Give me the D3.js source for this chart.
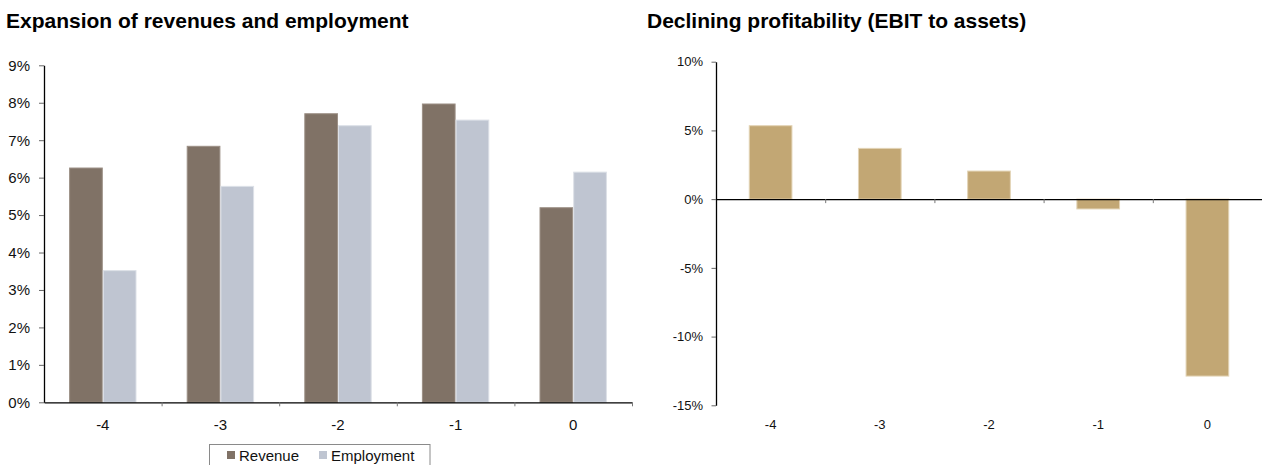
<!DOCTYPE html>
<html>
<head>
<meta charset="utf-8">
<script src="https://cdn.jsdelivr.net/npm/d3@7"></script>
<style>
  html, body { margin: 0; padding: 0; background: #fff; }
  svg { display: block; font-family: Arial, "Liberation Sans", sans-serif; }
  .domain { stroke: #000; }
</style>
</head>
<body>
<svg id="chart" width="1262" height="465"></svg>
<script>
// Left panel: growth of revenues and employment by year relative to event (0)
const years = ["-4", "-3", "-2", "-1", "0"];
const seriesNames = ["Revenue", "Employment"];
const revenue = [0.0627, 0.0685, 0.0772, 0.0798, 0.0521];
const employment = [0.0353, 0.0578, 0.0740, 0.0755, 0.0616];
const growthTicks = [0, 0.01, 0.02, 0.03, 0.04, 0.05, 0.06, 0.07, 0.08, 0.09];

// Right panel: EBIT to assets
const ebitToAssets = [0.0538, 0.0373, 0.0208, -0.0075, -0.1291];
const profitTicks = [-0.15, -0.10, -0.05, 0, 0.05, 0.10];

const colors = { Revenue: "#807266", Employment: "#bfc5d1" };
const edges = { Revenue: "#9c9086", Employment: "#dce0e7" };
const tan = "#c2a774", tanEdge = "#e3d4b6";

const svg = d3.select("#chart");
// percent labels with a plain hyphen for negatives
const pct = d3.formatLocale({ decimal: ".", thousands: ",", grouping: [3], currency: ["$", ""], minus: "-" }).format(".0%");

// ---------- Left panel ----------
const L = { left: 44, right: 632, top: 65.3, bottom: 402.3 };
const yL = d3.scaleLinear().domain([0, 0.09]).range([L.bottom, L.top]);
const xL = d3.scaleBand().domain(years).range([L.left, L.right]).padding(0);
const xLsub = d3.scaleBand().domain(seriesNames).range([0, xL.bandwidth()])
  .paddingInner(0).paddingOuter(0.745);
const xLedges = d3.scaleLinear().domain([0, years.length]).range([L.left, L.right]);

svg.append("text").attr("x", 6).attr("y", 28)
  .attr("font-size", 21).attr("font-weight", "bold").attr("fill", "#000")
  .text("Expansion of revenues and employment");

const left = svg.append("g");
const rows = years.map((y, i) => ({ year: y, Revenue: revenue[i], Employment: employment[i] }));

left.selectAll("g.grp").data(rows).join("g").attr("class", "grp")
  .attr("transform", d => `translate(${xL(d.year)},0)`)
  .selectAll("rect").data(d => seriesNames.map(k => ({ key: k, value: d[k] })))
  .join("rect")
  .attr("x", d => xLsub(d.key) + 0.5)
  .attr("width", xLsub.bandwidth() - 1)
  .attr("y", d => yL(d.value) + 0.5)
  .attr("height", d => yL(0) - yL(d.value) - 0.5)
  .attr("fill", d => colors[d.key])
  .attr("stroke", d => edges[d.key])
  .attr("stroke-width", 1);

// y axis
const yAxL = left.append("g").attr("transform", `translate(${L.left},0)`)
  .call(d3.axisLeft(yL).tickValues(growthTicks).tickFormat(pct).tickSize(5).tickPadding(9).tickSizeOuter(0));
yAxL.selectAll("text").attr("font-size", 15).attr("fill", "#111").attr("font-family", "Arial, 'Liberation Sans', sans-serif");
yAxL.selectAll(".tick line").attr("stroke", "#666");
yAxL.select(".domain").attr("stroke", "#000").attr("stroke-width", 1.3);

// x axis line with boundary ticks
const xAxL = left.append("g").attr("transform", `translate(0,${L.bottom})`)
  .call(d3.axisBottom(xLedges).tickValues(d3.range(1, years.length + 1)).tickFormat("").tickSize(4).tickSizeOuter(0));
xAxL.selectAll(".tick line").attr("stroke", "#777");
xAxL.select(".domain").attr("stroke", "#000").attr("stroke-width", 1.3);

// x labels
const xLabL = left.append("g").attr("transform", `translate(0,${L.bottom})`)
  .call(d3.axisBottom(xL).tickSize(0).tickPadding(17));
xLabL.select(".domain").remove();
xLabL.selectAll("text").attr("font-size", 15).attr("fill", "#111").attr("font-family", "Arial, 'Liberation Sans', sans-serif");

// legend
const lg = svg.append("g");
lg.append("rect").attr("x", 209.5).attr("y", 444.5).attr("width", 220.5).attr("height", 30)
  .attr("fill", "#fff").attr("stroke", "#8a8a8a").attr("stroke-width", 1);
const legendPos = { Revenue: 227, Employment: 319 };
seriesNames.forEach(k => {
  lg.append("rect").attr("x", legendPos[k]).attr("y", 451).attr("width", 8).attr("height", 8)
    .attr("fill", colors[k]);
  lg.append("text").attr("x", legendPos[k] + 12).attr("y", 460.5)
    .attr("font-size", 15).attr("fill", "#111").text(k);
});

// ---------- Right panel ----------
const R = { left: 716, right: 1262, top: 61.7, bottom: 405.3 };
const yR = d3.scaleLinear().domain([-0.15, 0.10]).range([R.bottom, R.top]);
const xR = d3.scaleBand().domain(years).range([R.left, R.right]).paddingInner(0.6).paddingOuter(0.3);
const xRedges = d3.scaleLinear().domain([0, years.length]).range([R.left, R.right]);

svg.append("text").attr("x", 647).attr("y", 28)
  .attr("font-size", 21).attr("font-weight", "bold").attr("fill", "#000")
  .text("Declining profitability (EBIT to assets)");

const right = svg.append("g");
right.selectAll("rect").data(years.map((y, i) => ({ year: y, value: ebitToAssets[i] })))
  .join("rect")
  .attr("x", d => xR(d.year) + 0.5)
  .attr("width", xR.bandwidth() - 1)
  .attr("y", d => Math.min(yR(d.value), yR(0)) + (d.value > 0 ? 0.5 : 0))
  .attr("height", d => Math.abs(yR(d.value) - yR(0)) - 0.5)
  .attr("fill", tan)
  .attr("stroke", tanEdge)
  .attr("stroke-width", 1);

const yAxR = right.append("g").attr("transform", `translate(${R.left},0)`)
  .call(d3.axisLeft(yR).tickValues(profitTicks).tickFormat(pct).tickSize(4.5).tickPadding(8.5).tickSizeOuter(0));
yAxR.selectAll("text").attr("font-size", 13).attr("fill", "#111").attr("font-family", "Arial, 'Liberation Sans', sans-serif");
yAxR.selectAll(".tick line").attr("stroke", "#666");
yAxR.select(".domain").attr("stroke", "#000").attr("stroke-width", 1.3);

const xAxR = right.append("g").attr("transform", `translate(0,${yR(0)})`)
  .call(d3.axisBottom(xRedges).tickValues(d3.range(1, years.length + 1)).tickFormat("").tickSize(4).tickSizeOuter(0));
xAxR.selectAll(".tick line").attr("stroke", "#777");
xAxR.select(".domain").attr("stroke", "#000").attr("stroke-width", 1.3);

const xLabR = right.append("g").attr("transform", `translate(0,${R.bottom})`)
  .call(d3.axisBottom(xR).tickSize(0).tickPadding(14.5));
xLabR.select(".domain").remove();
xLabR.selectAll("text").attr("font-size", 13).attr("fill", "#111").attr("font-family", "Arial, 'Liberation Sans', sans-serif");
</script>
</body>
</html>
